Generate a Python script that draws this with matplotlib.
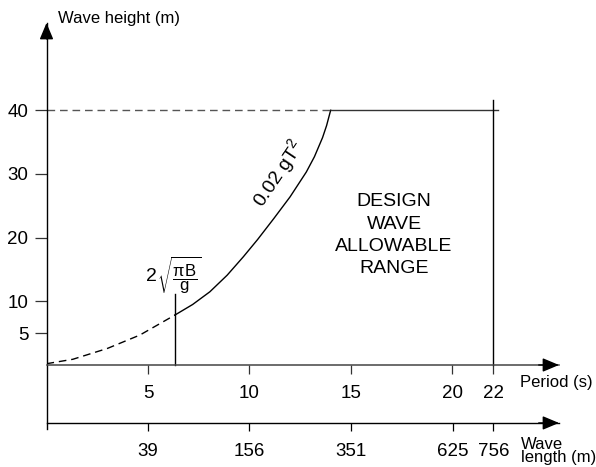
import numpy as np
import matplotlib
matplotlib.use("Agg")
import matplotlib.pyplot as plt

plt.rcParams['font.family'] = ['Liberation Sans', 'DejaVu Sans']
plt.rcParams['mathtext.fontset'] = 'custom'
plt.rcParams['mathtext.rm'] = 'Liberation Sans'
plt.rcParams['mathtext.it'] = 'Liberation Sans'
plt.rcParams['mathtext.default'] = 'regular'

# values
period_ticks = [5, 10, 15, 20, 22]
height_ticks = [5, 10, 20, 30, 40]
length_ticks = [39, 156, 351, 625, 756]

# curve H = 0.02 g T^2 as drawn (dashed below the breadth limit)
curve_T = [0.0, 1.3, 3.0, 4.6, 6.33, 7.2, 8.05, 8.9, 9.7, 10.4, 11.2, 12.0,
           12.8, 13.2, 13.6, 13.8, 14.0]
curve_H = [0.2, 0.9, 2.6, 4.7, 7.85, 9.5, 11.5, 14.1, 17.0, 19.7, 23.0, 26.4,
           30.3, 32.7, 35.7, 37.6, 40.0]
split = 4  # index of the breadth limit 2*sqrt(pi*B/g)

T_limit = 6.33      # breadth limit period
H_limit_top = 11.1  # top of the marker line
H_max = 40          # max wave height
T_max = 22          # max period
T_end = 25.25       # arrow tip of period axis
H_top = 53.7        # arrow tip of height axis
H_bottom = -10.05
H_length_axis = -9.1

fig = plt.figure(figsize=(5.96, 4.67), dpi=100)
ax = fig.add_axes([46.5 / 596, 38 / 467, 512.5 / 596, 406 / 467])
ax.set_xlim(0, T_end)
ax.set_ylim(H_bottom, H_top)

for s in ['top', 'right']:
    ax.spines[s].set_visible(False)
ax.spines['bottom'].set_position(('data', 0))
ax.spines['bottom'].set_color('#444444')
ax.spines['bottom'].set_linewidth(1.1)
ax.spines['left'].set_linewidth(1.0)

ax.set_xticks(period_ticks)
ax.set_xticklabels([str(t) for t in period_ticks])
ax.set_yticks(height_ticks)
ax.set_yticklabels([str(h) for h in height_ticks])
ax.tick_params(axis='y', length=8.5, width=0.9, pad=4.5, labelsize=13.5, color='#333333')
ax.tick_params(axis='x', length=6.5, width=0.9, pad=8, labelsize=13.5, color='#333333')

# wave length axis: L = 1.56 T^2
def to_length(t):
    return 1.56 * np.asarray(t) ** 2

def to_period(l):
    return np.sqrt(np.maximum(np.asarray(l, dtype=float), 0) / 1.56)

loc = (H_length_axis - H_bottom) / (H_top - H_bottom)
sec = ax.secondary_xaxis(loc, functions=(to_length, to_period))
sec.set_xticks(length_ticks)
sec.set_xticklabels([str(l) for l in length_ticks])
sec.tick_params(axis='x', length=6, width=0.9, pad=8.5, labelsize=13.5)
sec.spines['bottom'].set_linewidth(1.0)

# arrow heads
arrow = dict(arrowstyle='-|>,head_length=1.0,head_width=0.42', color='black',
             lw=1.0, shrinkA=0, shrinkB=0)
ax.annotate('', xy=(0, H_top), xytext=(0, H_top - 2.5), arrowprops=arrow, annotation_clip=False)
ax.annotate('', xy=(T_end, 0), xytext=(T_end - 1, 0), arrowprops=arrow, annotation_clip=False)
ax.annotate('', xy=(T_end, H_length_axis), xytext=(T_end - 1, H_length_axis),
            arrowprops=arrow, annotation_clip=False)

# curve
ax.plot(curve_T[:split + 1], curve_H[:split + 1], color='black', lw=1.0,
        dashes=(5.5, 3.5))
ax.plot(curve_T[split:], curve_H[split:], color='black', lw=1.0)

# max height line
ax.plot([0, curve_T[-1]], [H_max, H_max], color='#555555', lw=1.0, dashes=(5.5, 3.5))
ax.plot([curve_T[-1], 22.25], [H_max, H_max], color='#333333', lw=1.0)

# limit lines
ax.plot([T_limit, T_limit], [0, H_limit_top], color='black', lw=1.0)
ax.plot([T_max, T_max], [0, 41.6], color='black', lw=1.0)

# labels
ax.text(11.4, 30.1, '0.02 g$T^2$', rotation=56, ha='center', va='center', fontsize=14)
ax.text(5.45, 13.9, '2', ha='right', va='center', fontsize=14)
ax.text(5.42, 14.1, r'$\sqrt{\dfrac{\pi B}{g}}$', ha='left', va='center', fontsize=12)
ax.text(17.12, 20.4, 'DESIGN\nWAVE\nALLOWABLE\nRANGE', ha='center', va='center',
        fontsize=14, linespacing=1.39)

fig.text(58 / 596, 1 - 18 / 467, 'Wave height (m)', ha='left', va='center', fontsize=12)
fig.text(520 / 596, 1 - 383 / 467, 'Period (s)', ha='left', va='center', fontsize=12)
fig.text(521 / 596, 1 - 451 / 467, 'Wave\nlength (m)', ha='left', va='center',
         fontsize=12, linespacing=0.85)

fig.savefig('out.png', dpi=100)
